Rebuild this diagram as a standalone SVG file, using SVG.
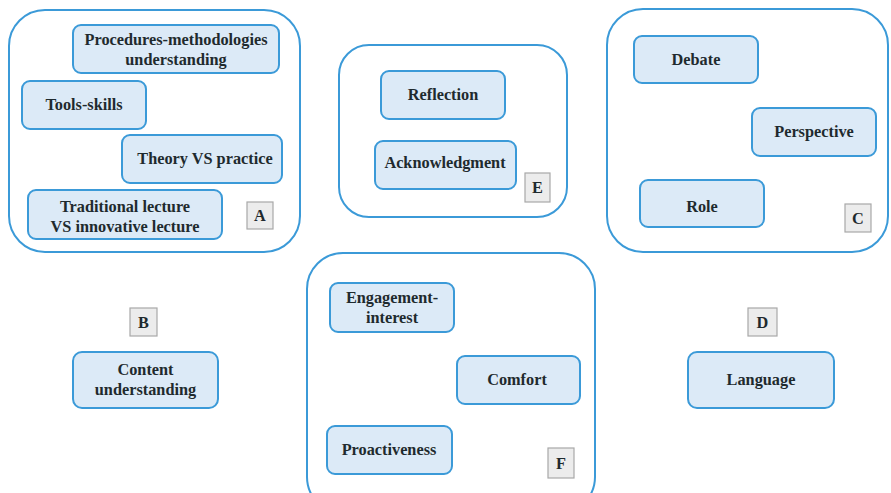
<svg xmlns="http://www.w3.org/2000/svg" width="891" height="493" viewBox="0 0 891 493">
<style>
.outer{fill:#fff;stroke:#3b9ad8;stroke-width:2}
.node{fill:#dceaf7;stroke:#3b9ad8;stroke-width:2}
.lab{fill:#ececec;stroke:#a8a8a8;stroke-width:1.2}
text{font-family:"Liberation Serif","Times New Roman",serif;font-weight:bold;font-size:16.3px;fill:#1f2a2e;text-anchor:middle}
</style>
<rect width="891" height="493" fill="#fff"/>
<g id="groupA">
<rect class="outer" x="9" y="10" width="291" height="242" rx="36"/>
<g id="procedures"><rect class="node" x="73" y="25" width="206" height="48" rx="8"/><text x="176" y="45">Procedures-methodologies</text><text x="176" y="65">understanding</text></g>
<g id="tools"><rect class="node" x="22" y="81" width="124" height="48" rx="8"/><text x="84" y="110">Tools-skills</text></g>
<g id="theory"><rect class="node" x="122" y="135" width="160" height="48" rx="8"/><text x="205" y="164">Theory VS practice</text></g>
<g id="traditional"><rect class="node" x="28" y="190" width="194" height="49" rx="8"/><text x="125" y="212">Traditional lecture</text><text x="125" y="232">VS innovative lecture</text></g>
<g id="labelA"><rect class="lab" x="247" y="202" width="26" height="27"/><text x="260" y="221">A</text></g>
</g>
<g id="groupE">
<rect class="outer" x="339" y="45" width="228" height="172" rx="30"/>
<g id="reflection"><rect class="node" x="381" y="71" width="124" height="48" rx="8"/><text x="443" y="100">Reflection</text></g>
<g id="acknowledgment"><rect class="node" x="375" y="141" width="141" height="48" rx="8"/><text x="445" y="168">Acknowledgment</text></g>
<g id="labelE"><rect class="lab" x="525" y="173" width="25" height="29"/><text x="537.5" y="193">E</text></g>
</g>
<g id="groupC">
<rect class="outer" x="607" y="9" width="281" height="243" rx="36"/>
<g id="debate"><rect class="node" x="634" y="36" width="124" height="47" rx="8"/><text x="696" y="65">Debate</text></g>
<g id="perspective"><rect class="node" x="752" y="108" width="124" height="48" rx="8"/><text x="814" y="137">Perspective</text></g>
<g id="role"><rect class="node" x="640" y="180" width="124" height="47" rx="8"/><text x="702" y="212">Role</text></g>
<g id="labelC"><rect class="lab" x="845" y="204" width="26" height="28"/><text x="858" y="224">C</text></g>
</g>
<g id="groupF">
<rect class="outer" x="307" y="253" width="288" height="260" rx="36"/>
<g id="engagement"><rect class="node" x="330" y="283" width="124" height="49" rx="8"/><text x="392" y="303">Engagement-</text><text x="392" y="323">interest</text></g>
<g id="comfort"><rect class="node" x="457" y="356" width="123" height="48" rx="8"/><text x="517" y="385">Comfort</text></g>
<g id="proactiveness"><rect class="node" x="327" y="426" width="125" height="48" rx="8"/><text x="389" y="455">Proactiveness</text></g>
<g id="labelF"><rect class="lab" x="548" y="448" width="26" height="30"/><text x="561" y="469">F</text></g>
</g>
<g id="groupB">
<g id="labelB"><rect class="lab" x="130" y="308" width="27" height="28"/><text x="143.5" y="328">B</text></g>
<g id="content"><rect class="node" x="73" y="352" width="145" height="56" rx="9"/><text x="145.5" y="375">Content</text><text x="145.5" y="395">understanding</text></g>
</g>
<g id="groupD">
<g id="labelD"><rect class="lab" x="748" y="308" width="29" height="28"/><text x="762.5" y="328">D</text></g>
<g id="language"><rect class="node" x="688" y="352" width="146" height="56" rx="9"/><text x="761" y="385">Language</text></g>
</g>
<g id="connectors"></g>
</svg>
